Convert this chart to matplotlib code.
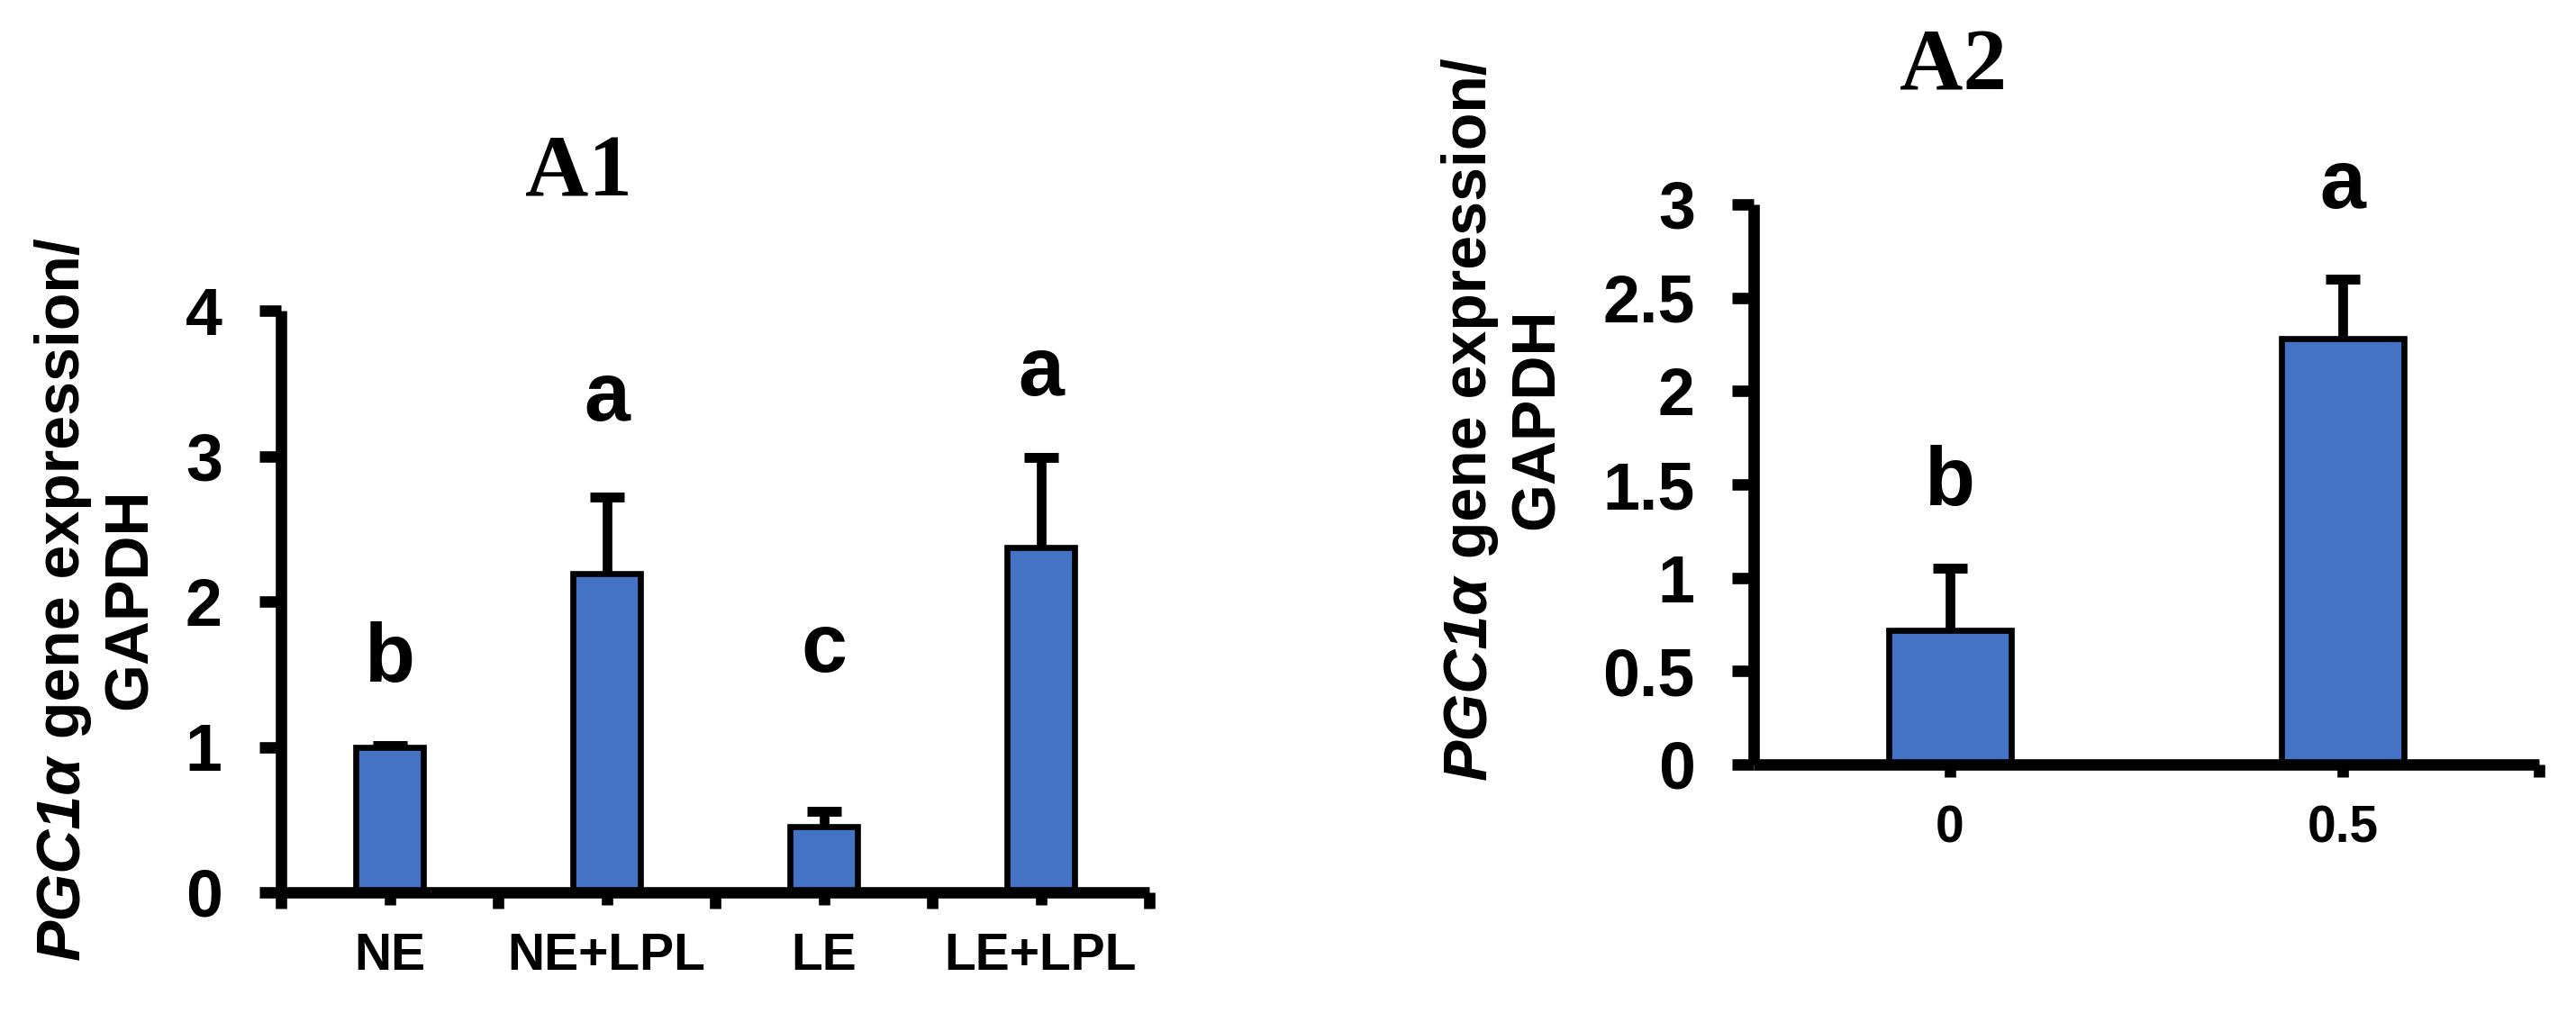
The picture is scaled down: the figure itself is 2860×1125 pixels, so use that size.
import matplotlib
matplotlib.use('Agg')
import matplotlib.pyplot as plt
from matplotlib.transforms import IdentityTransform
from matplotlib.ticker import FixedLocator, NullFormatter

# ---------------- data ----------------
a1_categories = ['NE', 'NE+LPL', 'LE', 'LE+LPL']
a1_values = [1.00, 2.19, 0.45, 2.37]
a1_errors = [0.01, 0.53, 0.11, 0.62]
a1_letters = ['b', 'a', 'c', 'a']
a1_letter_y = [1.45, 3.245, 1.52, 3.42]
a1_yticks = [0, 1, 2, 3, 4]
a1_ytick_labels = ['0', '1', '2', '3', '4']

a2_categories = ['0', '0.5']
a2_values = [0.72, 2.28]
a2_errors = [0.33, 0.32]
a2_letters = ['b', 'a']
a2_letter_y = [1.39, 2.98]
a2_yticks = [0, 0.5, 1, 1.5, 2, 2.5, 3]
a2_ytick_labels = ['0', '0.5', '1', '1.5', '2', '2.5', '3']

ylabel_italic = 'PGC1α'
ylabel_rest = ' gene expression/'
ylabel_line2 = 'GAPDH'

# ---------------- style ----------------
W, H = 2860, 1125
DPI = 100
BLUE = '#4472C4'
plt.rcParams['font.family'] = ['Liberation Sans', 'DejaVu Sans']
plt.rcParams['font.weight'] = 'bold'

fig = plt.figure(figsize=(W / DPI, H / DPI), dpi=DPI)
fig.patch.set_facecolor('white')


def fx(px):
    return px / W


def fy(py):
    return 1 - py / H


AX_LW = 9.1


def style_axes(ax, ylim, yticks, yticklabels, xlim, ncat, boundary_ticks):
    ax.set_xlim(*xlim)
    ax.set_ylim(*ylim)
    for s in ['top', 'right']:
        ax.spines[s].set_visible(False)
    for s in ['left', 'bottom']:
        ax.spines[s].set_linewidth(AX_LW)
        ax.spines[s].set_capstyle('butt')
    ax.set_yticks(yticks)
    ax.set_yticklabels(yticklabels)
    ax.tick_params(axis='y', direction='out', length=17, width=AX_LW,
                   pad=30, labelsize=53)
    ax.xaxis.set_minor_locator(FixedLocator(boundary_ticks))
    ax.xaxis.set_minor_formatter(NullFormatter())
    ax.tick_params(axis='x', which='major', direction='out', length=10,
                   width=AX_LW, pad=22, labelsize=41)
    ax.tick_params(axis='x', which='minor', direction='out', length=13,
                   width=AX_LW)
    ax.set_facecolor('none')


def draw_panel(ax, cats, vals, errs, letters, letter_y):
    x = list(range(len(cats)))
    ax.errorbar(x, vals, yerr=errs, fmt='none', ecolor='black',
                elinewidth=7.7, capsize=14, capthick=7.9, zorder=1)
    ax.bar(x, vals, width=0.31, color=BLUE, edgecolor='black',
           linewidth=4.8, zorder=2)
    ax.set_xticks(x)
    ax.set_xticklabels(cats)
    for xi, lt, ly in zip(x, letters, letter_y):
        ax.text(xi, ly, lt, ha='center', va='baseline', fontsize=66,
                fontweight='bold', zorder=3)


# Panel A1
ax1 = fig.add_axes([fx(312), fy(991), (1276 - 312) / W, (991 - 345) / H])
draw_panel(ax1, a1_categories, a1_values, a1_errors, a1_letters, a1_letter_y)
style_axes(ax1, (0, 4), a1_yticks, a1_ytick_labels, (-0.5, 3.5),
           len(a1_categories), [-0.5, 0.5, 1.5, 2.5, 3.5])

# Panel A2
ax2 = fig.add_axes([fx(1947), fy(849), (2819 - 1947) / W, (849 - 227) / H])
draw_panel(ax2, a2_categories, a2_values, a2_errors, a2_letters, a2_letter_y)
style_axes(ax2, (0, 3), a2_yticks, a2_ytick_labels, (-0.5, 1.5),
           len(a2_categories), [1.5])
ax2.tick_params(axis='x', which='minor', length=10)

# Titles
fig.text(fx(642), fy(218), 'A1', ha='center', va='baseline',
         fontsize=70, fontweight='bold', family='Liberation Serif')
fig.text(fx(2168), fy(100), 'A2', ha='center', va='baseline',
         fontsize=70, fontweight='bold', family='Liberation Serif')

# Y labels (two lines, first with italic gene name)
renderer = fig.canvas.get_renderer()
YL_FS = 49
tmp1 = fig.text(0, 0, ylabel_italic, fontsize=YL_FS, fontweight='bold',
                fontstyle='italic')
tmp2 = fig.text(0, 0, ylabel_rest, fontsize=YL_FS, fontweight='bold')
w1 = tmp1.get_window_extent(renderer).width
w2 = tmp2.get_window_extent(renderer).width
tmp1.remove()
tmp2.remove()


def ylabel(x_base1, x_base2, yc):
    ident = IdentityTransform()
    ycd = H - yc
    y0 = ycd - (w1 + w2) / 2
    fig.text(x_base1, y0, ylabel_italic, transform=ident, rotation=90,
             rotation_mode='anchor', ha='left', va='baseline',
             fontsize=YL_FS, fontweight='bold', fontstyle='italic')
    fig.text(x_base1, y0 + w1, ylabel_rest, transform=ident, rotation=90,
             rotation_mode='anchor', ha='left', va='baseline',
             fontsize=YL_FS, fontweight='bold')
    fig.text(x_base2, ycd, ylabel_line2, transform=ident, rotation=90,
             rotation_mode='anchor', ha='center', va='baseline',
             fontsize=YL_FS, fontweight='bold')


ylabel(88, 163, 665)
ylabel(1650, 1725, 465)

fig.savefig('out.png', dpi=DPI, facecolor='white')
